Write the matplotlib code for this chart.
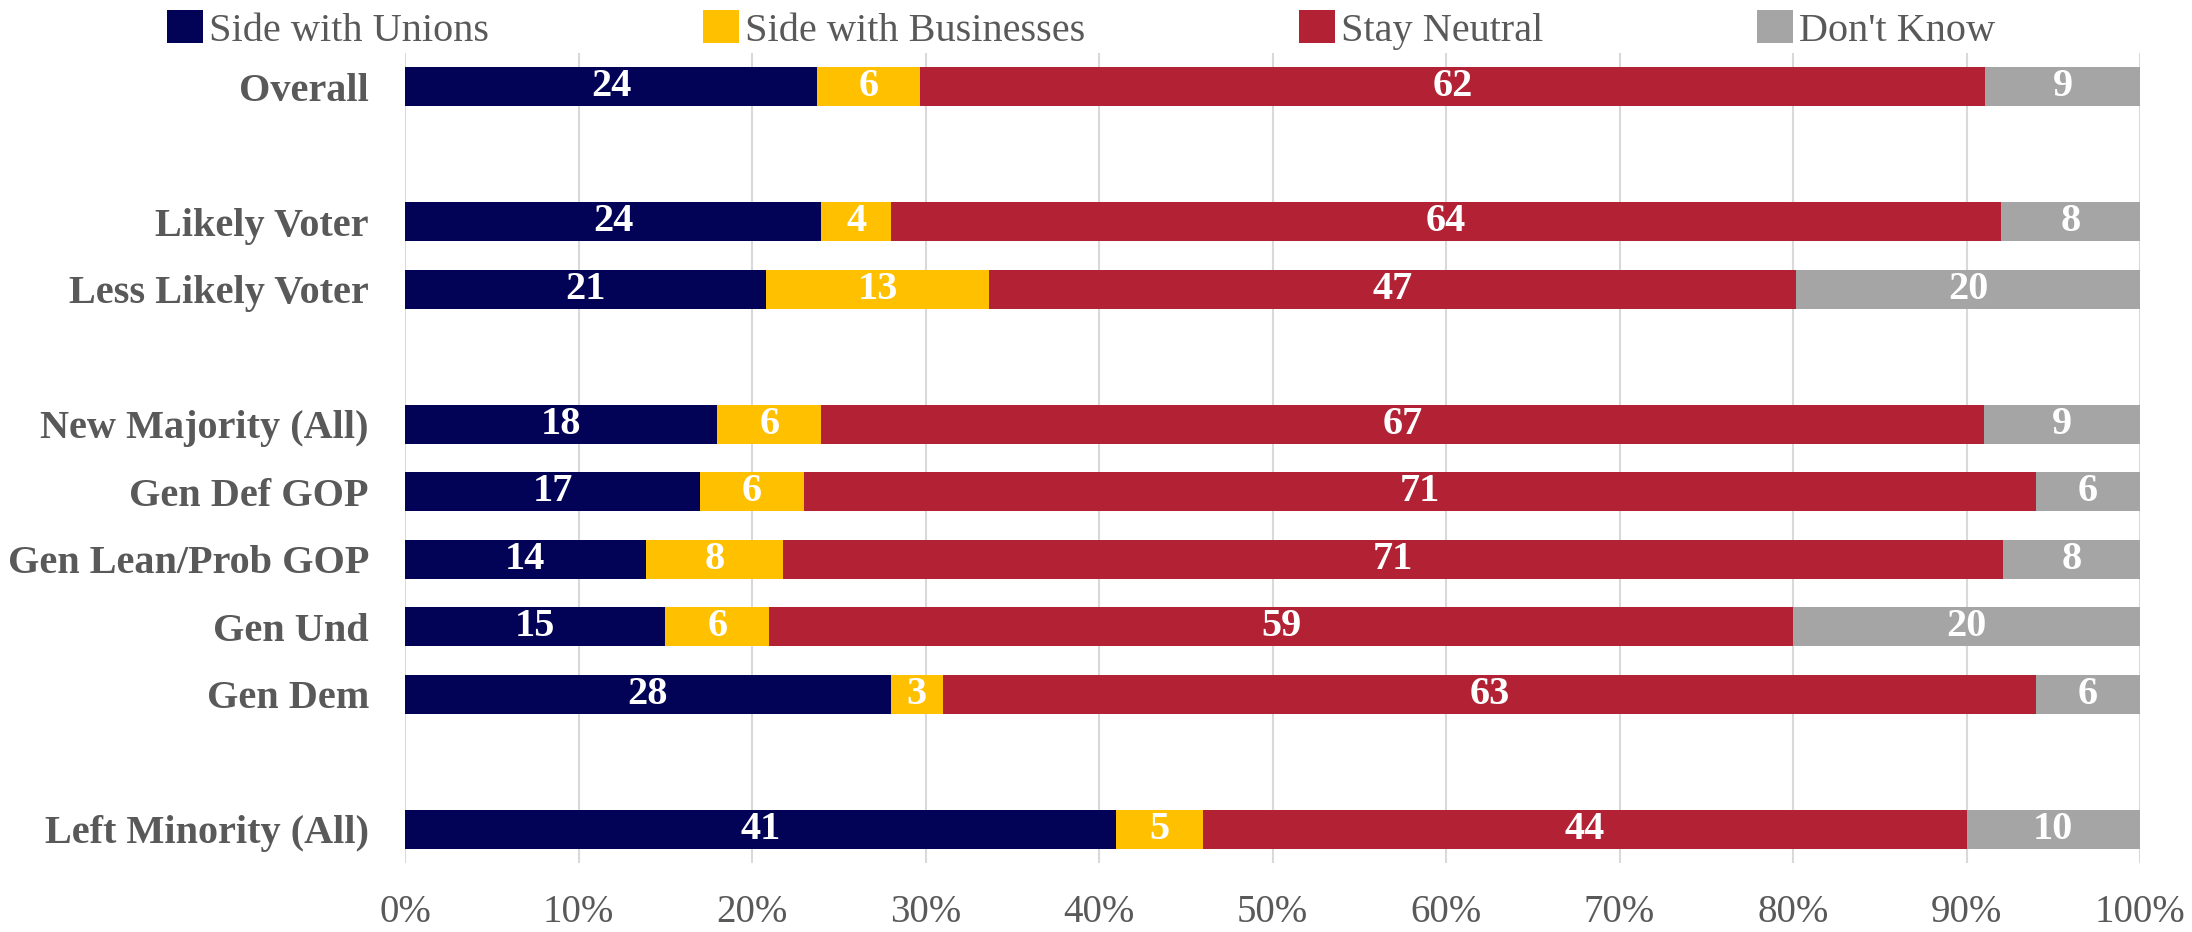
import numpy as np
import matplotlib.pyplot as plt
from matplotlib.patches import Patch

plt.rcParams['font.family'] = ['Liberation Serif', 'DejaVu Serif']

# rows top to bottom, blank strings are spacer rows
groups = ["Overall", "", "Likely Voter", "Less Likely Voter", "",
          "New Majority (All)", "Gen Def GOP", "Gen Lean/Prob GOP",
          "Gen Und", "Gen Dem", "", "Left Minority (All)"]
unions = [24, None, 24, 21, None, 18, 17, 14, 15, 28, None, 41]
businesses = [6, None, 4, 13, None, 6, 6, 8, 6, 3, None, 5]
neutral = [62, None, 64, 47, None, 67, 71, 71, 59, 63, None, 44]
dont_know = [9, None, 8, 20, None, 9, 6, 8, 20, 6, None, 10]

series = ["Side with Unions", "Side with Businesses", "Stay Neutral", "Don't Know"]
colors = ["#020357", "#FFC000", "#B22234", "#A5A5A5"]
gray = "#595959"

fig = plt.figure(figsize=(21.92, 9.32), dpi=100)
ax = fig.add_axes([0.1848, 0.074, 0.7915, 0.869])

ypos = np.arange(len(groups))
for i, name in enumerate(groups):
    if not name:
        continue
    vals = [unions[i], businesses[i], neutral[i], dont_know[i]]
    total = sum(vals)
    left = 0.0
    for v, c in zip(vals, colors):
        w = v / total * 100
        ax.barh(ypos[i], w, left=left, height=0.58, color=c, zorder=3)
        ax.text(left + w / 2, ypos[i], str(v), ha="center", va="center",
                color="white", fontsize=29, fontweight="bold", zorder=4)
        left += w

ax.set_xlim(0, 100)
ax.set_ylim(len(groups) - 0.5, -0.5)
ax.set_yticks(ypos)
ax.set_yticklabels(groups, fontsize=29, fontweight="bold", color=gray)
ax.set_xticks(np.arange(0, 101, 10))
ax.set_xticklabels([f"{t}%" for t in range(0, 101, 10)], fontsize=28, color=gray)
ax.tick_params(axis="y", length=0, pad=26)
ax.tick_params(axis="x", length=0, pad=22)
ax.grid(axis="x", color="#D9D9D9", linewidth=1.5, zorder=0)
for s in ax.spines.values():
    s.set_visible(False)

handles = [Patch(facecolor=c, edgecolor="none") for c in colors]
fig.legend(handles, series, loc="center", bbox_to_anchor=(1081 / 2192, 0.968),
           ncol=4, frameon=False, fontsize=29, labelcolor=gray,
           handlelength=0.9, handleheight=0.9, handletextpad=0.15,
           columnspacing=5.3)

fig.savefig("out.png", dpi=100)
